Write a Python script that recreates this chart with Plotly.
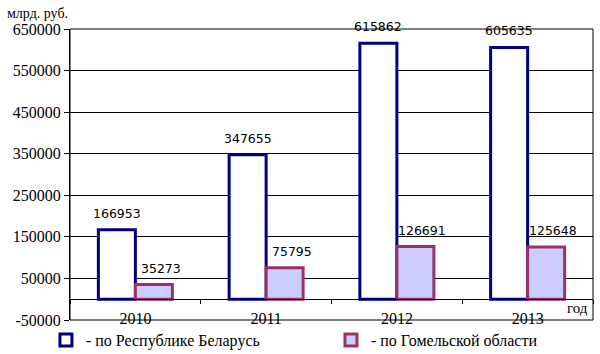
import plotly.graph_objects as go

years = ["2010", "2011", "2012", "2013"]
belarus = [166953, 347655, 615862, 605635]
gomel = [35273, 75795, 126691, 125648]
series_names = ["- по Республике Беларусь", "- по Гомельской области"]
y_tickvals = [-50000, 50000, 150000, 250000, 350000, 450000, 550000, 650000]
y_ticktext = ["-50000", "50000", "150000", "250000", "350000", "450000", "550000", "650000"]
y_range = [-50000, 650000]

serif = "Liberation Serif, Times New Roman, serif"
sans = "DejaVu Sans, Verdana, sans-serif"

W, H = 600, 354
ML, MR, MT, MB = 70, 7, 29, 34
plot_h = H - MT - MB

fig = go.Figure()
fig.add_trace(go.Bar(
    x=years, y=belarus, name=series_names[0], legend="legend",
    marker=dict(color="#FFFFFF", line=dict(color="#000080", width=3)),
))
fig.add_trace(go.Bar(
    x=years, y=gomel, name=series_names[1], legend="legend2",
    marker=dict(color="#CCCCFF", line=dict(color="#993366", width=3)),
))

# data labels above bars
bar_px = 37
annots = []
for vals, shift in ((belarus, -bar_px / 2), (gomel, bar_px / 2 + 7)):
    for i, v in enumerate(vals):
        annots.append(dict(
            x=i, y=v, xref="x", yref="y", text=str(v), showarrow=False,
            xshift=shift, yshift=7, yanchor="bottom", xanchor="center",
            font=dict(family=sans, size=12.5, color="#000000"),
        ))

annots += [
    dict(text="млрд. руб.", xref="paper", yref="paper", x=-0.124, y=1.02,
         xanchor="left", yanchor="bottom", showarrow=False,
         font=dict(family=serif, size=14, color="#000000")),
    dict(text="год", xref="paper", yref="paper", x=0.995, y=0.04,
         xanchor="right", yanchor="middle", showarrow=False,
         font=dict(family=serif, size=15, color="#000000")),
]

zero_pos = (0 - y_range[0]) / (y_range[1] - y_range[0])
leg_font = dict(family=serif, size=16, color="#000000")
leg_y = -20 / plot_h

fig.update_layout(
    width=W, height=H,
    margin=dict(l=ML, r=MR, t=MT, b=MB, autoexpand=False),
    paper_bgcolor="#FFFFFF", plot_bgcolor="#FFFFFF",
    barmode="group", bargap=0.434, bargroupgap=0,
    showlegend=True,
    legend=dict(x=-0.046, xanchor="left", y=leg_y, yanchor="middle",
                font=leg_font, itemclick=False, bgcolor="rgba(0,0,0,0)"),
    legend2=dict(x=0.499, xanchor="left", y=leg_y, yanchor="middle",
                 font=leg_font, itemclick=False, bgcolor="rgba(0,0,0,0)"),
    xaxis=dict(
        type="category", anchor="free", position=zero_pos,
        range=[-0.5, 3.5], autorange=False,
        showline=True, linecolor="#000000", linewidth=1,
        ticks="outside", tickson="boundaries", ticklen=4, tickcolor="#000000",
        ticklabelstandoff=5, tickangle=0,
        showgrid=False, zeroline=False,
        tickfont=dict(family=serif, size=16, color="#000000"),
    ),
    yaxis=dict(
        range=y_range, autorange=False, domain=[0, 1],
        tickvals=y_tickvals, ticktext=y_ticktext,
        showline=True, linecolor="#000000", linewidth=1,
        ticks="outside", ticklen=5, tickcolor="#000000",
        showgrid=True, gridcolor="#000000", gridwidth=1,
        zeroline=False,
        tickfont=dict(family=serif, size=16, color="#000000"),
    ),
    annotations=annots,
    shapes=[dict(type="rect", xref="paper", yref="paper", x0=0, x1=1, y0=0, y1=1,
                 line=dict(color="#000000", width=1), layer="above")],
)

fig.write_html("out.html")
